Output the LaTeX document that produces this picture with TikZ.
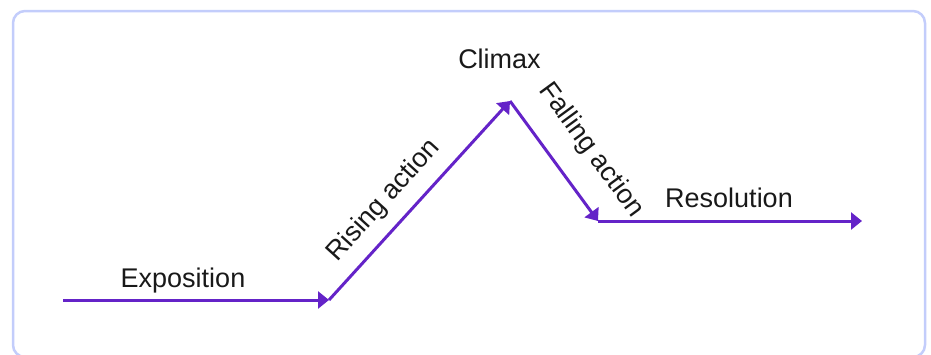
\documentclass[tikz,border=0pt]{standalone}
\usepackage{fontspec}
\setmainfont{Liberation Sans}
\usetikzlibrary{arrows.meta}
\definecolor{plum}{HTML}{6423C8}
\definecolor{framec}{HTML}{C3CDFB}
\begin{document}
\begin{tikzpicture}[x=1pt,y=-1pt,
  flow/.style={draw=plum, line width=3pt, -{Triangle[length=11pt,width=17pt]}},
  lbl/.style={font=\fontsize{27}{31}\selectfont, inner sep=0pt, text=black!90}]
\useasboundingbox (0,0) rectangle (931,354);
\draw[framec, line width=2.5pt, rounded corners=12pt] (13,11) rectangle (925,357);
\coordinate (p0) at (63,300);
\coordinate (p1) at (329,300);
\coordinate (p2) at (510,101);
\coordinate (p3) at (598,221);
\coordinate (p4) at (862,221);
\draw[flow] (p0) -- (p1);
\draw[flow] (p1) -- node[lbl, sloped, pos=0.41, above=12pt] (rising) {Rising action} (p2);
\draw[flow] (p2) -- node[lbl, sloped, pos=0.59, above=22pt] (falling) {Falling action} (p3);
\draw[flow] (p3) -- (p4);
\node[lbl, anchor=base] (expo) at (183,287) {Exposition};
\node[lbl, anchor=base] (climax) at (499.5,68) {Climax};
\node[lbl, anchor=base] (reso) at (729,207) {Resolution};
\end{tikzpicture}
\end{document}
